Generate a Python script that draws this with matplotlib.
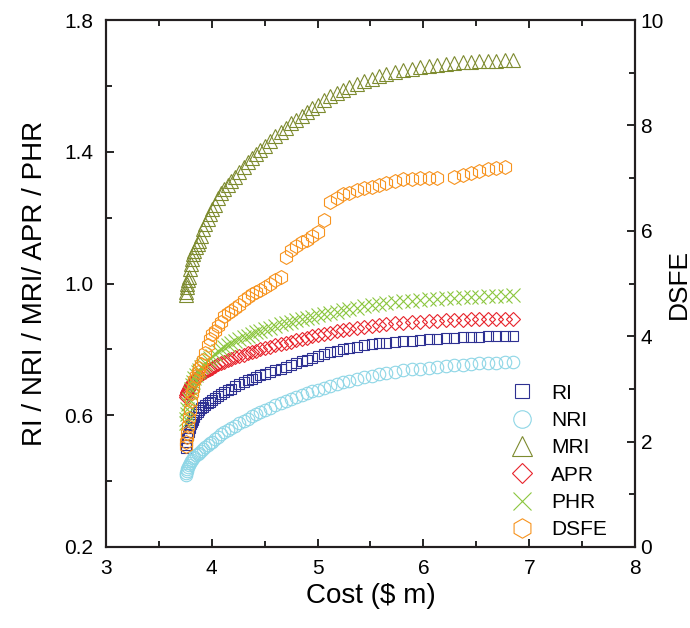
import matplotlib
matplotlib.use('Agg')
import matplotlib.pyplot as plt
import numpy as np
from matplotlib.ticker import MultipleLocator, FormatStrFormatter

plt.rcParams['font.family'] = ['Liberation Sans', 'DejaVu Sans']

# cost ($ m), shared by all series
cost = [3.755, 3.76, 3.765, 3.77, 3.775, 3.78, 3.79, 3.80, 3.81, 3.82,
        3.835, 3.85, 3.865, 3.88, 3.90, 3.92, 3.94, 3.96, 3.98, 4.00,
        4.03, 4.06, 4.09, 4.12, 4.15, 4.18, 4.22, 4.26, 4.30, 4.34,
        4.38, 4.42, 4.46, 4.50, 4.55, 4.60, 4.65, 4.70, 4.75, 4.80,
        4.85, 4.90, 4.95, 5.00, 5.06, 5.12, 5.18, 5.24, 5.30, 5.37,
        5.44, 5.51, 5.58, 5.65, 5.73, 5.81, 5.89, 5.97, 6.05, 6.13,
        6.21, 6.29, 6.37, 6.45, 6.53, 6.61, 6.69, 6.77, 6.85]

ri = [0.500, 0.510, 0.520, 0.530, 0.540, 0.550, 0.562, 0.572, 0.580, 0.587,
      0.596, 0.604, 0.611, 0.617, 0.622, 0.626, 0.631, 0.636, 0.641, 0.646,
      0.653, 0.659, 0.665, 0.671, 0.676, 0.681, 0.688, 0.694, 0.700, 0.706,
      0.711, 0.716, 0.721, 0.726, 0.732, 0.737, 0.742, 0.748, 0.753, 0.758,
      0.764, 0.769, 0.774, 0.779, 0.785, 0.791, 0.796, 0.800, 0.804, 0.808,
      0.812, 0.815, 0.818, 0.820, 0.823, 0.825, 0.827, 0.829, 0.831, 0.833,
      0.835, 0.836, 0.837, 0.838, 0.839, 0.840, 0.841, 0.841, 0.842]

nri = [0.420, 0.425, 0.430, 0.436, 0.442, 0.448, 0.455, 0.460, 0.465, 0.469,
       0.474, 0.478, 0.482, 0.486, 0.491, 0.497, 0.503, 0.509, 0.515, 0.520,
       0.528, 0.535, 0.542, 0.548, 0.554, 0.560, 0.568, 0.576, 0.583, 0.590,
       0.597, 0.604, 0.610, 0.616, 0.623, 0.630, 0.637, 0.644, 0.650, 0.656,
       0.662, 0.668, 0.673, 0.678, 0.684, 0.690, 0.695, 0.700, 0.705, 0.710,
       0.715, 0.720, 0.724, 0.728, 0.732, 0.736, 0.739, 0.742, 0.745, 0.748,
       0.750, 0.752, 0.754, 0.756, 0.758, 0.759, 0.760, 0.761, 0.762]

mri = [0.965, 0.975, 0.990, 1.000, 1.010, 1.020, 1.045, 1.060, 1.075, 1.090,
       1.100, 1.110, 1.120, 1.130, 1.145, 1.165, 1.180, 1.195, 1.210, 1.225,
       1.240, 1.260, 1.275, 1.287, 1.300, 1.310, 1.325, 1.340, 1.355, 1.368,
       1.381, 1.394, 1.406, 1.418, 1.433, 1.447, 1.460, 1.473, 1.486, 1.498,
       1.510, 1.522, 1.533, 1.543, 1.556, 1.568, 1.579, 1.589, 1.598, 1.607,
       1.615, 1.622, 1.629, 1.636, 1.642, 1.648, 1.653, 1.657, 1.661, 1.664,
       1.667, 1.670, 1.672, 1.674, 1.675, 1.676, 1.677, 1.678, 1.680]

apr = [0.655, 0.661, 0.667, 0.672, 0.677, 0.683, 0.689, 0.694, 0.698, 0.702,
       0.707, 0.712, 0.716, 0.720, 0.724, 0.728, 0.732, 0.736, 0.741, 0.745,
       0.750, 0.755, 0.759, 0.763, 0.767, 0.771, 0.776, 0.780, 0.784, 0.788,
       0.792, 0.796, 0.800, 0.804, 0.808, 0.812, 0.816, 0.820, 0.824, 0.828,
       0.832, 0.836, 0.840, 0.843, 0.847, 0.851, 0.855, 0.858, 0.861, 0.865,
       0.868, 0.871, 0.874, 0.876, 0.879, 0.881, 0.883, 0.884, 0.886, 0.887,
       0.888, 0.889, 0.890, 0.891, 0.891, 0.892, 0.892, 0.893, 0.893]

phr = [0.575, 0.590, 0.605, 0.620, 0.635, 0.650, 0.667, 0.680, 0.692, 0.702,
       0.713, 0.723, 0.731, 0.738, 0.746, 0.753, 0.760, 0.767, 0.773, 0.779,
       0.787, 0.794, 0.801, 0.807, 0.813, 0.818, 0.825, 0.831, 0.837, 0.842,
       0.847, 0.852, 0.857, 0.861, 0.866, 0.871, 0.876, 0.880, 0.884, 0.888,
       0.892, 0.896, 0.899, 0.903, 0.907, 0.911, 0.915, 0.919, 0.923, 0.927,
       0.931, 0.934, 0.937, 0.940, 0.943, 0.946, 0.948, 0.950, 0.952, 0.954,
       0.956, 0.957, 0.958, 0.959, 0.960, 0.961, 0.962, 0.963, 0.964]

nan = np.nan
dsfe = [1.92, 2.00, 2.08, 2.16, 2.30, 2.45, 2.60, 2.78, 2.92, 3.02,
        3.16, 3.24, 3.32, 3.40, 3.47, 3.55, 3.68, 3.84, 3.95, 4.04,
        4.10, 4.20, 4.27, 4.38, 4.45, 4.48, 4.53, 4.60, 4.68, 4.75,
        4.80, 4.84, 4.88, 4.94, 5.00, 5.07, 5.13, 5.50, 5.63, 5.72,
        5.78, 5.83, 5.90, 5.97, 6.20, 6.55, 6.63, 6.69, 6.72, 6.77,
        6.81, 6.84, 6.87, 6.90, 6.95, 6.98, 6.99, 7.00, 7.00, 7.01,
        nan, 7.02, 7.06, 7.10, 7.14, 7.17, 7.19, 7.22, nan]

fig = plt.figure(figsize=(6.9, 6.28), dpi=100, facecolor='white')
ax = fig.add_axes([0.1536, 0.129, 0.7667, 0.839])
ax2 = ax.twinx()

mew = 0.8
h1, = ax.plot(cost, ri, ls='none', marker='s', mfc='none', mec='#2E3192', ms=7.5, mew=mew, label='RI')
h2, = ax.plot(cost, nri, ls='none', marker='o', mfc='none', mec='#8ED6E6', ms=9, mew=mew, label='NRI')
h3, = ax.plot(cost, mri, ls='none', marker='^', mfc='none', mec='#7D8B2F', ms=10, mew=mew, label='MRI')
h4, = ax.plot(cost, apr, ls='none', marker='D', mfc='none', mec='#E8242C', ms=7.5, mew=mew, label='APR')
h5, = ax.plot(cost, phr, ls='none', marker='x', mfc='none', mec='#8CC63F', ms=9.5, mew=mew, label='PHR')
h6, = ax2.plot(cost, dsfe, ls='none', marker='h', mfc='none', mec='#F7931E', ms=10, mew=mew, label='DSFE')

ax.set_xlim(3, 8)
ax.set_ylim(0.2, 1.8)
ax2.set_ylim(0, 10)

ax.xaxis.set_major_locator(MultipleLocator(1))
ax.xaxis.set_minor_locator(MultipleLocator(0.5))
ax.set_yticks([0.2, 0.6, 1.0, 1.4, 1.8])
ax.set_yticks([0.4, 0.8, 1.2, 1.6], minor=True)
ax.yaxis.set_major_formatter(FormatStrFormatter('%.1f'))
ax2.yaxis.set_major_locator(MultipleLocator(2))
ax2.yaxis.set_minor_locator(MultipleLocator(1))

ax.tick_params(which='both', direction='in', top=True, right=False, labelsize=15, width=1.2)
ax.tick_params(axis='y', which='both', pad=9)
ax.tick_params(axis='x', which='both', pad=9)
ax.tick_params(which='major', length=6)
ax.tick_params(which='minor', length=4)
ax2.tick_params(which='both', direction='in', labelsize=15, width=1.2, pad=4)
ax2.tick_params(which='major', length=6)
ax2.tick_params(which='minor', length=4)

for a in (ax, ax2):
    for s in a.spines.values():
        s.set_linewidth(1.5)
        s.set_color('#231F20')

ax.set_xlabel('Cost (\\$ m)', fontsize=20, labelpad=3)
ax.set_ylabel('RI / NRI / MRI/ APR / PHR', fontsize=20, labelpad=12)
ax2.set_ylabel('DSFE', fontsize=19, labelpad=2)

ax2.legend(handles=[h1, h2, h3, h4, h5, h6], loc='upper left', bbox_to_anchor=(0.767, 0.31),
           frameon=False, fontsize=15, markerscale=1.4, handlelength=1.0,
           handletextpad=0.9, labelspacing=0.4, borderpad=0, borderaxespad=0)

plt.savefig('out.png', dpi=100)
